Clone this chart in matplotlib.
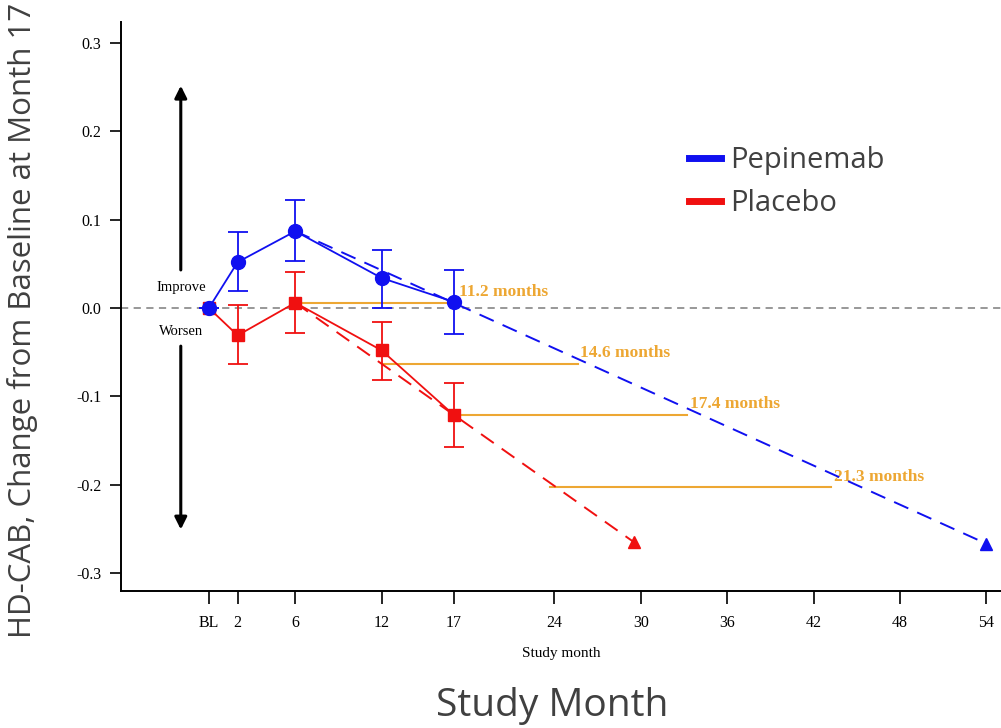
import matplotlib.pyplot as plt
from matplotlib.lines import Line2D

# observed data
months = [0, 2, 6, 12, 17]
pep_mean = [0.0, 0.052, 0.087, 0.034, 0.007]
pep_lo = [0.0, 0.019, 0.053, 0.0, -0.029]
pep_hi = [0.0, 0.086, 0.122, 0.066, 0.043]
pla_mean = [0.0, -0.031, 0.006, -0.048, -0.121]
pla_lo = [0.0, -0.063, -0.028, -0.082, -0.157]
pla_hi = [0.0, 0.003, 0.041, -0.016, -0.085]

# extrapolated trends (start month 6 -> projected end)
pep_proj_x = [6, 54]
pep_proj_y = [0.087, -0.267]
pla_proj_x = [6, 29.5]
pla_proj_y = [0.006, -0.265]

# delay bars: y level, start month, end month, label
delay_y = [0.006, -0.063, -0.121, -0.203]
delay_x0 = [6, 12, 17, 23.7]
delay_x1 = [17.2, 25.6, 33.2, 43.2]
delay_lbl = ["11.2 months", "14.6 months", "17.4 months", "21.3 months"]

xticks = [0, 2, 6, 12, 17, 24, 30, 36, 42, 48, 54]
xtick_lbl = ["BL", "2", "6", "12", "17", "24", "30", "36", "42", "48", "54"]
yticks = [-0.3, -0.2, -0.1, 0.0, 0.1, 0.2, 0.3]

blue = "#1010F0"
red = "#F01010"
orange = "#EDA733"
serif = "Liberation Serif"

fig = plt.figure(figsize=(10.01, 7.28), dpi=100)
ax = fig.add_axes([0.1209, 0.1882, 0.879, 0.7816])

ax.axhline(0, color="#909090", lw=1.3, ls=(0, (4, 3)), zorder=1)

for y, x0, x1, lab in zip(delay_y, delay_x0, delay_x1, delay_lbl):
    ax.plot([x0, x1], [y, y], color=orange, lw=1.5, zorder=2)
    ax.text(x1 + 0.2, y + 0.003, lab, color=orange, fontsize=12.5, fontweight="bold",
            family=serif, ha="left", va="bottom")

ax.plot(pla_proj_x, pla_proj_y, color=red, lw=1.4, ls=(0, (8, 5)), zorder=3)
ax.plot(pla_proj_x[-1:], pla_proj_y[-1:], marker="^", color=red, ms=8, zorder=4)
ax.plot(pep_proj_x, pep_proj_y, color=blue, lw=1.4, ls=(0, (8, 5)), zorder=3)
ax.plot(pep_proj_x[-1:], pep_proj_y[-1:], marker="^", color=blue, ms=8, zorder=4)

pla_err = [[m - l for m, l in zip(pla_mean, pla_lo)], [h - m for m, h in zip(pla_mean, pla_hi)]]
pep_err = [[m - l for m, l in zip(pep_mean, pep_lo)], [h - m for m, h in zip(pep_mean, pep_hi)]]
ax.errorbar(months, pla_mean, yerr=pla_err, color=red, marker="s", ms=9, lw=1.3,
            capsize=7, capthick=1.3, elinewidth=1.3, zorder=5)
ax.errorbar(months, pep_mean, yerr=pep_err, color=blue, marker="o", ms=10, lw=1.3,
            capsize=7, capthick=1.3, elinewidth=1.3, zorder=6)

# improve / worsen arrows
ax.annotate("", xy=(-1.95, 0.255), xytext=(-1.95, 0.04),
            arrowprops=dict(arrowstyle="-|>", color="black", lw=2.2, mutation_scale=18))
ax.annotate("", xy=(-1.95, -0.254), xytext=(-1.95, -0.04),
            arrowprops=dict(arrowstyle="-|>", color="black", lw=2.2, mutation_scale=18))
ax.text(-1.9, 0.023, "Improve", fontsize=10.5, family=serif, ha="center", va="center")
ax.text(-1.9, -0.027, "Worsen", fontsize=10.5, family=serif, ha="center", va="center")

ax.set_xlim(-6.1, 55.0)
ax.set_ylim(-0.3205, 0.324)
ax.set_xticks(xticks)
ax.set_xticklabels(xtick_lbl)
ax.set_yticks(yticks)
ax.set_yticklabels([f"{v:.1f}" for v in yticks])
for lbl in ax.get_xticklabels() + ax.get_yticklabels():
    lbl.set_family(serif)
    lbl.set_fontsize(11.5)
ax.tick_params(axis="x", direction="out", length=9, width=1.2, pad=8)
ax.tick_params(axis="y", direction="out", length=8, width=1.2, pad=6)
ax.spines["top"].set_visible(False)
ax.spines["right"].set_visible(False)
for s in ["left", "bottom"]:
    ax.spines[s].set_linewidth(1.4)
ax.set_xlabel("Study month", family=serif, fontsize=11, labelpad=12)

fig.text(0.022, 0.56, "HD-CAB, Change from Baseline at Month 17", rotation=90,
         fontsize=22.5, family="Open Sans", color="#404040", ha="center", va="center")
fig.text(0.552, 0.03, "Study Month", fontsize=28, family="Open Sans",
         color="#404040", ha="center", va="center")

handles = [Line2D([], [], color=blue, lw=5), Line2D([], [], color=red, lw=5)]
fig.legend(handles, ["Pepinemab", "Placebo"], loc="upper left",
           bbox_to_anchor=(0.668, 0.827), frameon=False, handlelength=1.1,
           handletextpad=0.3, labelspacing=0.48, borderpad=0.2,
           prop={"family": "Open Sans", "size": 21}, labelcolor="#404040")

fig.savefig("out.png", dpi=100)
